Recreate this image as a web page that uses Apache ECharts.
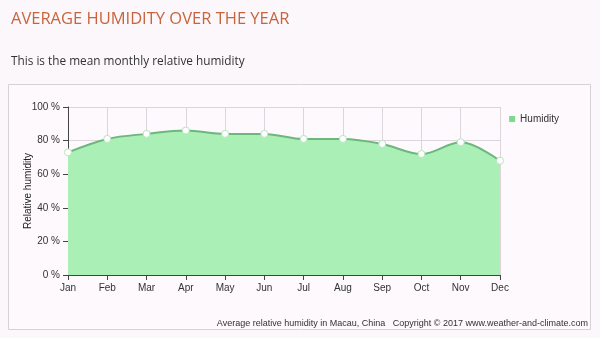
<!DOCTYPE html>
<html>
<head>
<meta charset="utf-8">
<script src="https://cdn.jsdelivr.net/npm/echarts@6/dist/echarts.min.js"></script>
<style>
  html, body { margin: 0; padding: 0; background: #fcf7fb; }
  #chart { width: 600px; height: 338px; }
</style>
</head>
<body>
<div id="chart"></div>
<script>
// Monthly mean relative humidity, Macau
const months = ['Jan', 'Feb', 'Mar', 'Apr', 'May', 'Jun', 'Jul', 'Aug', 'Sep', 'Oct', 'Nov', 'Dec'];
const humidity = [73, 81, 84, 86, 84, 84, 81, 81, 78, 72, 79, 68];
const yTicks = { min: 0, max: 100, interval: 20 };

const chart = echarts.init(document.getElementById('chart'), null, { renderer: 'canvas' });

chart.setOption({
  backgroundColor: '#fcf7fb',
  animation: false,
  title: [
    {
      text: 'AVERAGE HUMIDITY OVER THE YEAR',
      left: 6, top: 6,
      textStyle: { fontFamily: 'Open Sans', fontSize: 16.5, fontWeight: 'normal', color: '#c8643c' }
    },
    {
      text: 'This is the mean monthly relative humidity',
      left: 6, top: 51,
      textStyle: { fontFamily: 'Open Sans', fontSize: 11.8, fontWeight: 'normal', color: '#333' }
    },
    {
      text: 'Average relative humidity in Macau, China   Copyright © 2017 www.weather-and-climate.com',
      right: 7, top: 314,
      textStyle: { fontFamily: 'Liberation Sans', fontSize: 9, fontWeight: 'normal', color: '#333' }
    }
  ],
  graphic: [
    {
      type: 'rect', silent: true, z: -1,
      shape: { x: 8.5, y: 84.5, width: 582, height: 245 },
      style: { fill: '#fdf9fc', stroke: '#d6d2d5', lineWidth: 1 }
    }
  ],
  legend: {
    data: [{ name: 'Humidity', itemStyle: { color: '#7ed88e', borderWidth: 0 } }],
    right: 36, top: 109,
    icon: 'rect', itemWidth: 6, itemHeight: 6, itemGap: 6,
    textStyle: { fontFamily: 'Liberation Sans', fontSize: 10, color: '#333' }
  },
  grid: { left: 68, right: 100, top: 107, bottom: 63 },
  xAxis: {
    type: 'category',
    data: months,
    boundaryGap: false,
    axisLine: { lineStyle: { color: '#444' } },
    axisTick: { show: true, length: 5, lineStyle: { color: '#444' } },
    axisLabel: { fontFamily: 'Liberation Sans', fontSize: 10, color: '#333', margin: 8 },
    splitLine: { show: true, lineStyle: { color: '#ddd4dc' } }
  },
  yAxis: {
    type: 'value',
    min: yTicks.min, max: yTicks.max, interval: yTicks.interval,
    name: 'Relative humidity',
    nameLocation: 'middle',
    nameGap: 35,
    nameRotate: 90,
    nameMoveOverlap: false,
    nameTextStyle: { fontFamily: 'Liberation Sans', fontSize: 10, color: '#222' },
    axisLine: { show: true, lineStyle: { color: '#444' } },
    axisTick: { show: true, length: 5, lineStyle: { color: '#444' } },
    axisLabel: { formatter: '{value} %', fontFamily: 'Liberation Sans', fontSize: 10, color: '#333', margin: 8 },
    splitLine: { show: true, lineStyle: { color: '#ddd4dc' } }
  },
  series: [
    {
      name: 'Humidity',
      type: 'line',
      data: humidity,
      smooth: 0.35,
      symbol: 'circle',
      symbolSize: 7,
      color: '#7ed88e',
      lineStyle: { color: '#6db67c', width: 2 },
      itemStyle: { color: '#ffffff', borderColor: '#b6e6bf', borderWidth: 1 },
      areaStyle: { color: '#aaf0b6', opacity: 1 }
    }
  ]
});
</script>
</body>
</html>
